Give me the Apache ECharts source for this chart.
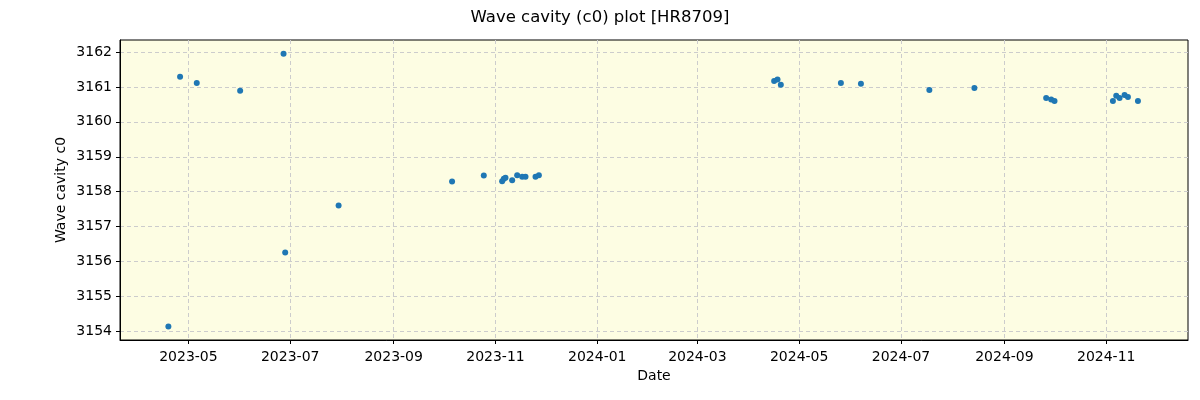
<!DOCTYPE html>
<html>
<head>
<meta charset="utf-8">
<script src="https://cdn.jsdelivr.net/npm/echarts@6/dist/echarts.min.js"></script>
<style>
html,body{margin:0;padding:0;background:#fff;}
#chart{width:1200px;height:400px;}
</style>
</head>
<body>
<div id="chart"></div>
<script>
const dates = [
  '2023-04-19','2023-04-26','2023-05-06','2023-06-01','2023-06-27','2023-06-28','2023-07-30',
  '2023-10-06','2023-10-25','2023-11-05','2023-11-06','2023-11-07','2023-11-11','2023-11-14',
  '2023-11-17','2023-11-19','2023-11-25','2023-11-27',
  '2024-04-16','2024-04-18','2024-04-20','2024-05-26','2024-06-07','2024-07-18','2024-08-14',
  '2024-09-26','2024-09-29','2024-10-01','2024-11-05','2024-11-07','2024-11-09','2024-11-12',
  '2024-11-14','2024-11-20'
];
const values = [
  3154.14, 3161.29, 3161.11, 3160.89, 3161.95, 3156.26, 3157.60,
  3158.29, 3158.46, 3158.30, 3158.37, 3158.40, 3158.33, 3158.47,
  3158.43, 3158.43, 3158.43, 3158.47,
  3161.17, 3161.21, 3161.06, 3161.11, 3161.09, 3160.91, 3160.97,
  3160.68, 3160.64, 3160.60, 3160.60, 3160.75, 3160.68, 3160.77,
  3160.71, 3160.60
];
const xTickLabels = ['2023-05','2023-07','2023-09','2023-11','2024-01',
  '2024-03','2024-05','2024-07','2024-09','2024-11'];
const yTickLabels = [3154,3155,3156,3157,3158,3159,3160,3161,3162];

const toMs = s => Date.parse(s.length === 7 ? s + '-01T00:00:00Z' : s + 'T00:00:00Z');
const xTicks = xTickLabels.map(toMs);
const xMin = toMs('2023-03-21');
const xMax = toMs('2024-12-20');
const fmt = v => {
  const d = new Date(v);
  return d.getUTCFullYear() + '-' + String(d.getUTCMonth() + 1).padStart(2, '0');
};

const chart = echarts.init(document.getElementById('chart'));
const font = 'DejaVu Sans';
chart.setOption({
  animation: false,
  backgroundColor: '#ffffff',
  title: {
    text: 'Wave cavity (c0) plot [HR8709]',
    left: 'center', top: 4,
    textStyle: {fontFamily: font, fontSize: 16.5, fontWeight: 'normal', color: '#000'}
  },
  grid: {
    left: 120, right: 12, top: 40, bottom: 60,
    show: true, backgroundColor: '#fdfde3', borderColor: '#000', borderWidth: 1
  },
  xAxis: {
    type: 'value', min: xMin, max: xMax,
    name: 'Date', nameLocation: 'middle', nameGap: 28,
    nameTextStyle: {fontFamily: font, fontSize: 14, color: '#000'},
    axisLine: {show: true, onZero: false, lineStyle: {color: '#000', width: 1}},
    axisTick: {show: true, length: 4, customValues: xTicks, lineStyle: {color: '#000'}},
    axisLabel: {
      customValues: xTicks, margin: 10,
      fontFamily: font, fontSize: 14, color: '#000',
      formatter: fmt
    },
    splitLine: {show: true, lineStyle: {color: '#cccccc', type: [4, 3], width: 1}}
  },
  yAxis: {
    type: 'value', min: 3153.75, max: 3162.345,
    name: 'Wave cavity c0', nameLocation: 'middle', nameGap: 52, nameRotate: 90,
    nameMoveOverlap: false,
    nameTextStyle: {fontFamily: font, fontSize: 14, color: '#000'},
    axisLine: {show: true, onZero: false, lineStyle: {color: '#000', width: 1}},
    axisTick: {show: true, length: 4, customValues: yTickLabels, lineStyle: {color: '#000'}},
    axisLabel: {
      customValues: yTickLabels, margin: 8,
      fontFamily: font, fontSize: 14, color: '#000',
      formatter: v => String(v)
    },
    splitLine: {show: true, lineStyle: {color: '#cccccc', type: [4, 3], width: 1}}
  },
  series: [{
    type: 'scatter',
    data: dates.map((d, i) => [toMs(d), values[i]]),
    symbolSize: 6,
    itemStyle: {color: '#1f77b4', opacity: 1}
  }]
});
</script>
</body>
</html>
